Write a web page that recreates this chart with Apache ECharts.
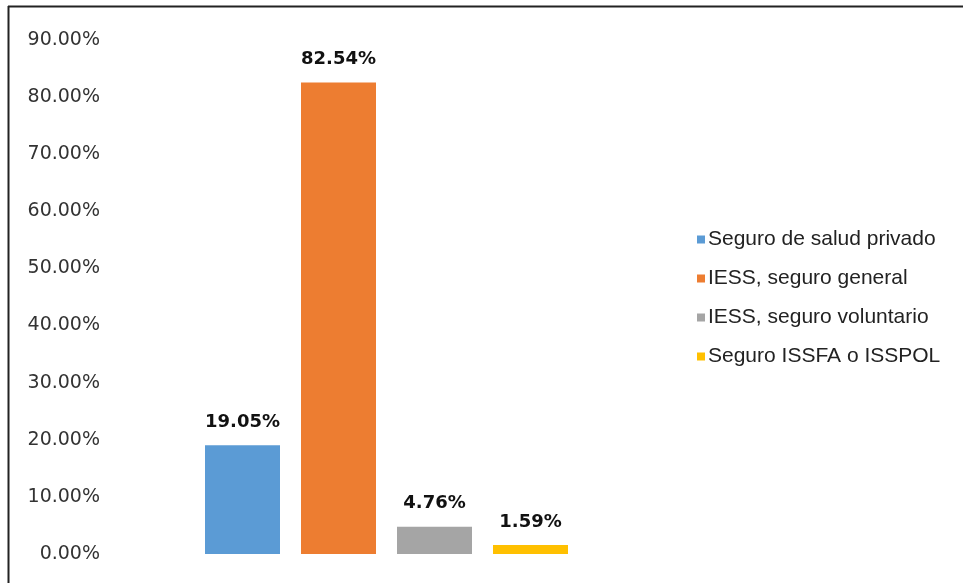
<!DOCTYPE html>
<html>
<head>
<meta charset="utf-8">
<script src="https://cdn.jsdelivr.net/npm/echarts@6/dist/echarts.min.js"></script>
<style>html,body{margin:0;padding:0;background:#fff;}#c{width:963px;height:583px;}</style>
</head>
<body>
<div id="c"></div>
<script>
const seriesNames = ['Seguro de salud privado', 'IESS, seguro general', 'IESS, seguro voluntario', 'Seguro ISSFA o ISSPOL'];
const seriesValues = [19.05, 82.54, 4.76, 1.59];
const seriesColors = ['#5B9BD5', '#ED7D31', '#A5A5A5', '#FFC000'];
const categories = [''];
const yMin = 0, yMax = 90, yStep = 10;

const chart = echarts.init(document.getElementById('c'));
chart.setOption({
  animation: false,
  backgroundColor: '#fff',
  grid: { left: 110, right: 300, top: 40, bottom: 29 },
  legend: {
    orient: 'vertical',
    left: 692,
    top: 224,
    itemWidth: 8,
    itemHeight: 8,
    itemGap: 18,
    icon: 'rect',
    textStyle: { fontFamily: 'Liberation Sans', fontSize: 21, color: '#222', padding: [0, 0, 0, -2] },
    data: seriesNames
  },
  xAxis: {
    type: 'category',
    data: categories,
    axisLine: { show: false },
    axisTick: { show: false },
    axisLabel: { show: false }
  },
  yAxis: {
    type: 'value',
    min: yMin, max: yMax, interval: yStep,
    axisLine: { show: false },
    axisTick: { show: false },
    splitLine: { show: false },
    axisLabel: {
      margin: 10,
      fontFamily: 'DejaVu Sans',
      fontSize: 19,
      color: '#333',
      formatter: v => v.toFixed(2) + '%'
    }
  },
  series: seriesNames.map((n, i) => ({
    name: n,
    type: 'bar',
    barWidth: 75,
    barGap: '28%',
    data: [seriesValues[i]],
    itemStyle: { color: seriesColors[i] },
    label: {
      show: true,
      position: 'top',
      distance: 14,
      fontFamily: 'DejaVu Sans',
      fontWeight: 'bold',
      fontSize: 18,
      color: '#111',
      formatter: p => p.value.toFixed(2) + '%'
    }
  })),
  graphic: [
    { type: 'line', shape: { x1: 8, y1: 6.5, x2: 963, y2: 6.5 }, style: { stroke: '#222', lineWidth: 2 } },
    { type: 'line', shape: { x1: 8.5, y1: 6, x2: 8.5, y2: 583 }, style: { stroke: '#222', lineWidth: 2 } }
  ]
});
</script>
</body>
</html>
